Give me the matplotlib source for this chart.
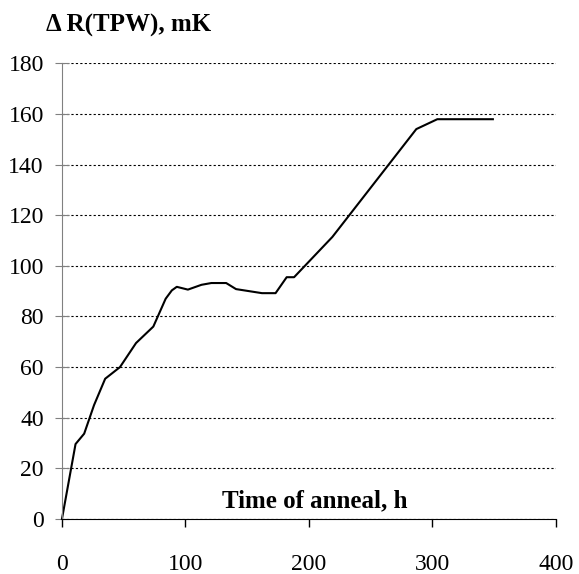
import matplotlib
matplotlib.use("Agg")
import matplotlib.pyplot as plt

plt.rcParams['font.family'] = ['Liberation Serif', 'DejaVu Serif']

# anneal time (h) vs change of R(TPW) (mK)
time_h = [0, 11, 18, 26, 35, 47, 60, 74, 84, 89, 93, 102, 113, 121, 133, 141,
          162, 173, 182, 188, 219, 287, 304, 349]
delta_r = [0, 29.6, 33.7, 45, 55.4, 60, 69.5, 76, 87, 90.3, 91.7, 90.6, 92.5,
           93.2, 93.2, 90.8, 89.2, 89.2, 95.5, 95.5, 111.4, 154, 157.9, 157.9]
x_ticks = [0, 100, 200, 300, 400]
y_ticks = [0, 20, 40, 60, 80, 100, 120, 140, 160, 180]

fig = plt.figure(figsize=(5.79, 5.74), dpi=100)
ax = fig.add_axes([0.107, 0.0958, 0.853, 0.794])

ax.plot(time_h, delta_r, color="black", lw=1.5, clip_on=False)

ax.set_xlim(0, 400)
ax.set_ylim(0, 180)
ax.set_xticks(x_ticks)
ax.set_yticks(y_ticks)
ax.yaxis.grid(True, color="black", linestyle=(0, (2, 2)), lw=0.8)
ax.set_axisbelow(True)

for s in ["top", "right"]:
    ax.spines[s].set_visible(False)
ax.spines["left"].set_color("#808080")
ax.spines["bottom"].set_color("black")

ax.tick_params(axis="x", direction="out", length=6, labelsize=17, pad=19, width=1)
ax.tick_params(axis="y", direction="inout", length=10, labelsize=17, pad=8, color="#808080")

fig.text(0.079, 0.956, "\u0394 R(TPW), mK", fontsize=18, fontweight="bold", va="center")
ax.text(0.512, 0.04, "Time of anneal, h", transform=ax.transAxes,
        fontsize=18, fontweight="bold", ha="center", va="center")

fig.savefig("out.png", dpi=100)
